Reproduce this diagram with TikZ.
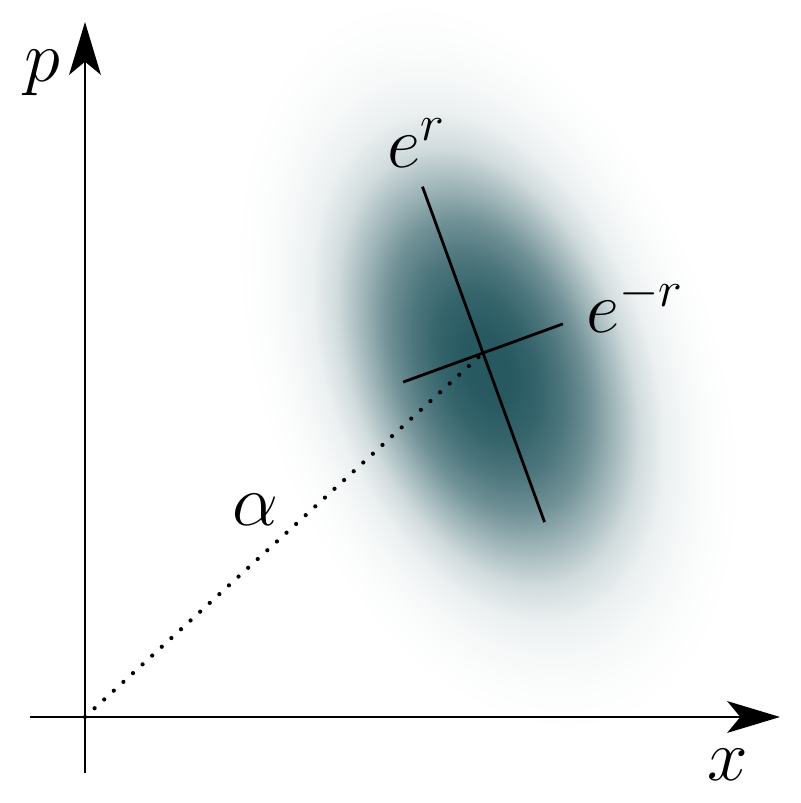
\documentclass[tikz,border=0pt]{standalone}
\usepackage{amsmath}
\usepackage{amssymb}
\usetikzlibrary{arrows.meta}

\definecolor{squeezeteal}{RGB}{38,88,96}
\pgfdeclareradialshading{gaussblob}{\pgfpoint{0bp}{0bp}}{%
    color(0bp)=(squeezeteal); color(2.5bp)=(squeezeteal!99);
    color(5bp)=(squeezeteal!93); color(7.5bp)=(squeezeteal!82);
    color(10bp)=(squeezeteal!66); color(12.5bp)=(squeezeteal!43);
    color(15bp)=(squeezeteal!21); color(17.5bp)=(squeezeteal!9);
    color(20bp)=(squeezeteal!4); color(22.5bp)=(squeezeteal!1.5);
    color(25bp)=(white); color(50bp)=(white)}

\begin{document}
\begin{tikzpicture}[every node/.style={font=\huge}]
    \useasboundingbox (-0.85,-0.86) rectangle (7.15,7.17);

    \coordinate (orig) at (0,0);
    \coordinate (ctr) at (3.98,3.64);

    \begin{scope}[transform canvas={shift={(4.03,3.50)},rotate=110}]
        \shade[shading=gaussblob] (0,0) ellipse (3.8 and 2.3);
    \end{scope}

    \coordinate (xstart) at (-0.55,0);
    \coordinate (xend) at (6.95,0);
    \coordinate (pstart) at (0,-0.56);
    \coordinate (pend) at (0,6.95);

    \draw[-{Stealth[length=15pt,width=9pt,inset=3.7pt]}, thick] (xstart) -- (xend);
    \draw[-{Stealth[length=15pt,width=9pt,inset=3.7pt]}, thick] (pstart) -- (pend);

    \draw[line width=1.2pt, line cap=round, dash pattern=on 0pt off 3.7pt] (orig) -- (ctr);

    \draw[thick] (ctr) ++(110:1.77) coordinate (rtop) -- (ctr) -- ++(-70:1.80) coordinate (rbot);
    \draw[thick] (ctr) ++(200:0.85) coordinate (sleft) -- (ctr) -- ++(20:0.85) coordinate (sright);

    \node (plabel) at (-0.43,6.44) {$p$};
    \node (xlabel) at (6.43,-0.48) {$x$};
    \node (erlabel) at (3.32,5.74) {$e^{r}$};
    \node (emrlabel) at (5.50,4.12) {$e^{-r}$};
    \node (alabel) at (1.70,2.07) {$\alpha$};
\end{tikzpicture}
\end{document}
